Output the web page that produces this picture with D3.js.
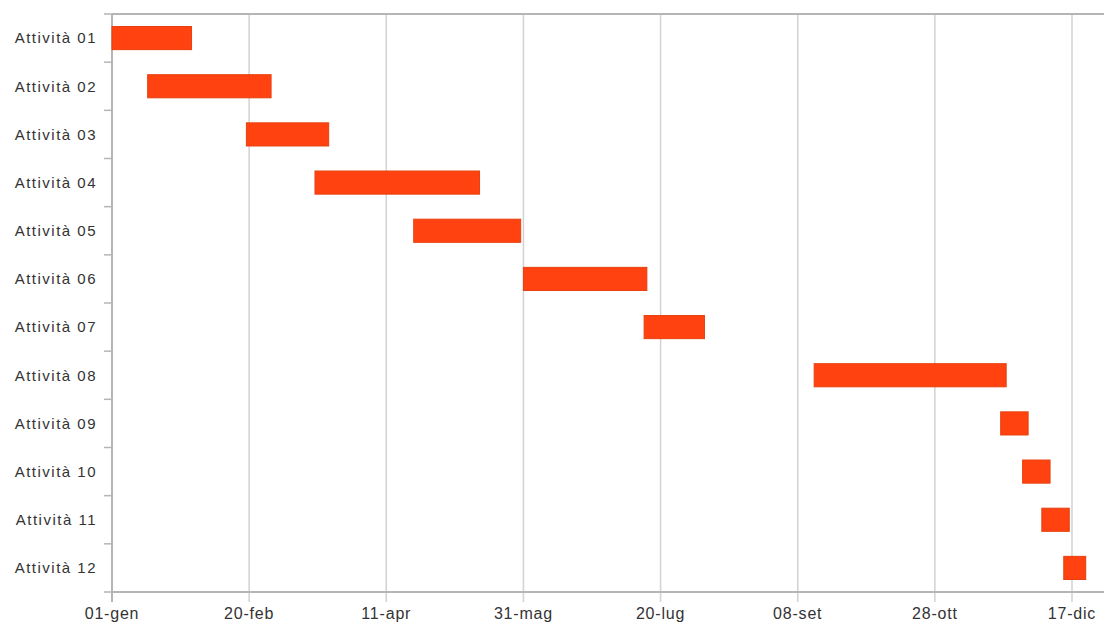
<!DOCTYPE html>
<html>
<head>
<meta charset="utf-8">
<script src="https://cdn.jsdelivr.net/npm/d3@7"></script>
<style>
  html, body { margin: 0; padding: 0; background: #fff; }
  svg { display: block; }
  text { font-family: "Liberation Sans", Arial, sans-serif; fill: #333; }
</style>
</head>
<body>
<svg id="chart" width="1104" height="632"></svg>
<script>
// Activities with start and end dates
const activities = ["Attività 01", "Attività 02", "Attività 03", "Attività 04", "Attività 05", "Attività 06",
                    "Attività 07", "Attività 08", "Attività 09", "Attività 10", "Attività 11", "Attività 12"];
const startDates = ["2013-01-01", "2013-01-14", "2013-02-19", "2013-03-16", "2013-04-21", "2013-05-31",
                    "2013-07-14", "2013-09-14", "2013-11-21", "2013-11-29", "2013-12-06", "2013-12-14"];
const endDates   = ["2013-01-30", "2013-02-28", "2013-03-21", "2013-05-15", "2013-05-30", "2013-07-15",
                    "2013-08-05", "2013-11-23", "2013-12-01", "2013-12-09", "2013-12-16", "2013-12-22"];
// Axis ticks, every 50 days
const tickDates  = ["2013-01-01", "2013-02-20", "2013-04-11", "2013-05-31", "2013-07-20", "2013-09-08",
                    "2013-10-28", "2013-12-17"];

const parse = d3.timeParse("%Y-%m-%d");
const it = d3.timeFormatLocale({
  dateTime: "%A %e %B %Y, %X", date: "%d/%m/%Y", time: "%H:%M:%S", periods: ["", ""],
  days: ["domenica","lunedì","martedì","mercoledì","giovedì","venerdì","sabato"],
  shortDays: ["dom","lun","mar","mer","gio","ven","sab"],
  months: ["gennaio","febbraio","marzo","aprile","maggio","giugno","luglio","agosto","settembre","ottobre","novembre","dicembre"],
  shortMonths: ["gen","feb","mar","apr","mag","giu","lug","ago","set","ott","nov","dic"]
});
const fmt = it.format("%d-%b");

const tasks = activities.map((name, i) => ({ name, start: parse(startDates[i]), end: parse(endDates[i]) }));
const ticks = tickDates.map(parse);

const svg = d3.select("#chart");
const plotLeft = 112, plotRight = 1104, plotTop = 14, plotBottom = 592;

const x = d3.scaleTime()
  .domain([ticks[0], ticks[ticks.length - 1]])
  .range([plotLeft, 1072]);

const y = d3.scaleBand()
  .domain(activities)
  .range([plotTop, plotBottom])
  .paddingInner(0.52)
  .paddingOuter(0.26);

// vertical grid lines
svg.append("g").selectAll("line")
  .data(ticks.slice(1))
  .join("line")
  .attr("x1", d => x(d)).attr("x2", d => x(d))
  .attr("y1", plotTop).attr("y2", plotBottom + 10)
  .attr("stroke", "#d2d2d2").attr("stroke-width", 1.5);

// row boundaries (category ticks)
const step = y.step();
const bounds = d3.range(activities.length + 1).map(i => plotTop + i * step);
svg.append("g").selectAll("line")
  .data(bounds)
  .join("line")
  .attr("x1", plotLeft - 8).attr("x2", plotLeft)
  .attr("y1", d => d).attr("y2", d => d)
  .attr("stroke", "#b5b5b5").attr("stroke-width", 1.5);

// frame lines
svg.append("line")
  .attr("x1", plotLeft).attr("x2", plotRight).attr("y1", plotTop).attr("y2", plotTop)
  .attr("stroke", "#b5b5b5").attr("stroke-width", 2);
svg.append("line")
  .attr("x1", plotLeft).attr("x2", plotRight).attr("y1", plotBottom).attr("y2", plotBottom)
  .attr("stroke", "#b5b5b5").attr("stroke-width", 2);
svg.append("line")
  .attr("x1", plotLeft).attr("x2", plotLeft).attr("y1", plotTop).attr("y2", plotBottom + 10)
  .attr("stroke", "#b5b5b5").attr("stroke-width", 2);

// bars
svg.append("g").selectAll("rect")
  .data(tasks)
  .join("rect")
  .attr("x", d => x(d.start))
  .attr("y", d => y(d.name))
  .attr("width", d => x(d.end) - x(d.start))
  .attr("height", y.bandwidth())
  .attr("fill", "#ff4210")
  .attr("stroke", "#e6400f")
  .attr("stroke-width", 1);

// category labels
svg.append("g").selectAll("text")
  .data(activities)
  .join("text")
  .attr("x", 97)
  .attr("y", d => y(d) + y.bandwidth() / 2)
  .attr("dy", "0.35em")
  .attr("text-anchor", "end")
  .attr("font-size", 15)
  .attr("letter-spacing", 1.5)
  .text(d => d);

// date labels
svg.append("g").selectAll("text")
  .data(ticks)
  .join("text")
  .attr("x", d => x(d))
  .attr("y", 619)
  .attr("text-anchor", "middle")
  .attr("font-size", 16)
  .attr("letter-spacing", 0.8)
  .text(d => fmt(d));
</script>
</body>
</html>
